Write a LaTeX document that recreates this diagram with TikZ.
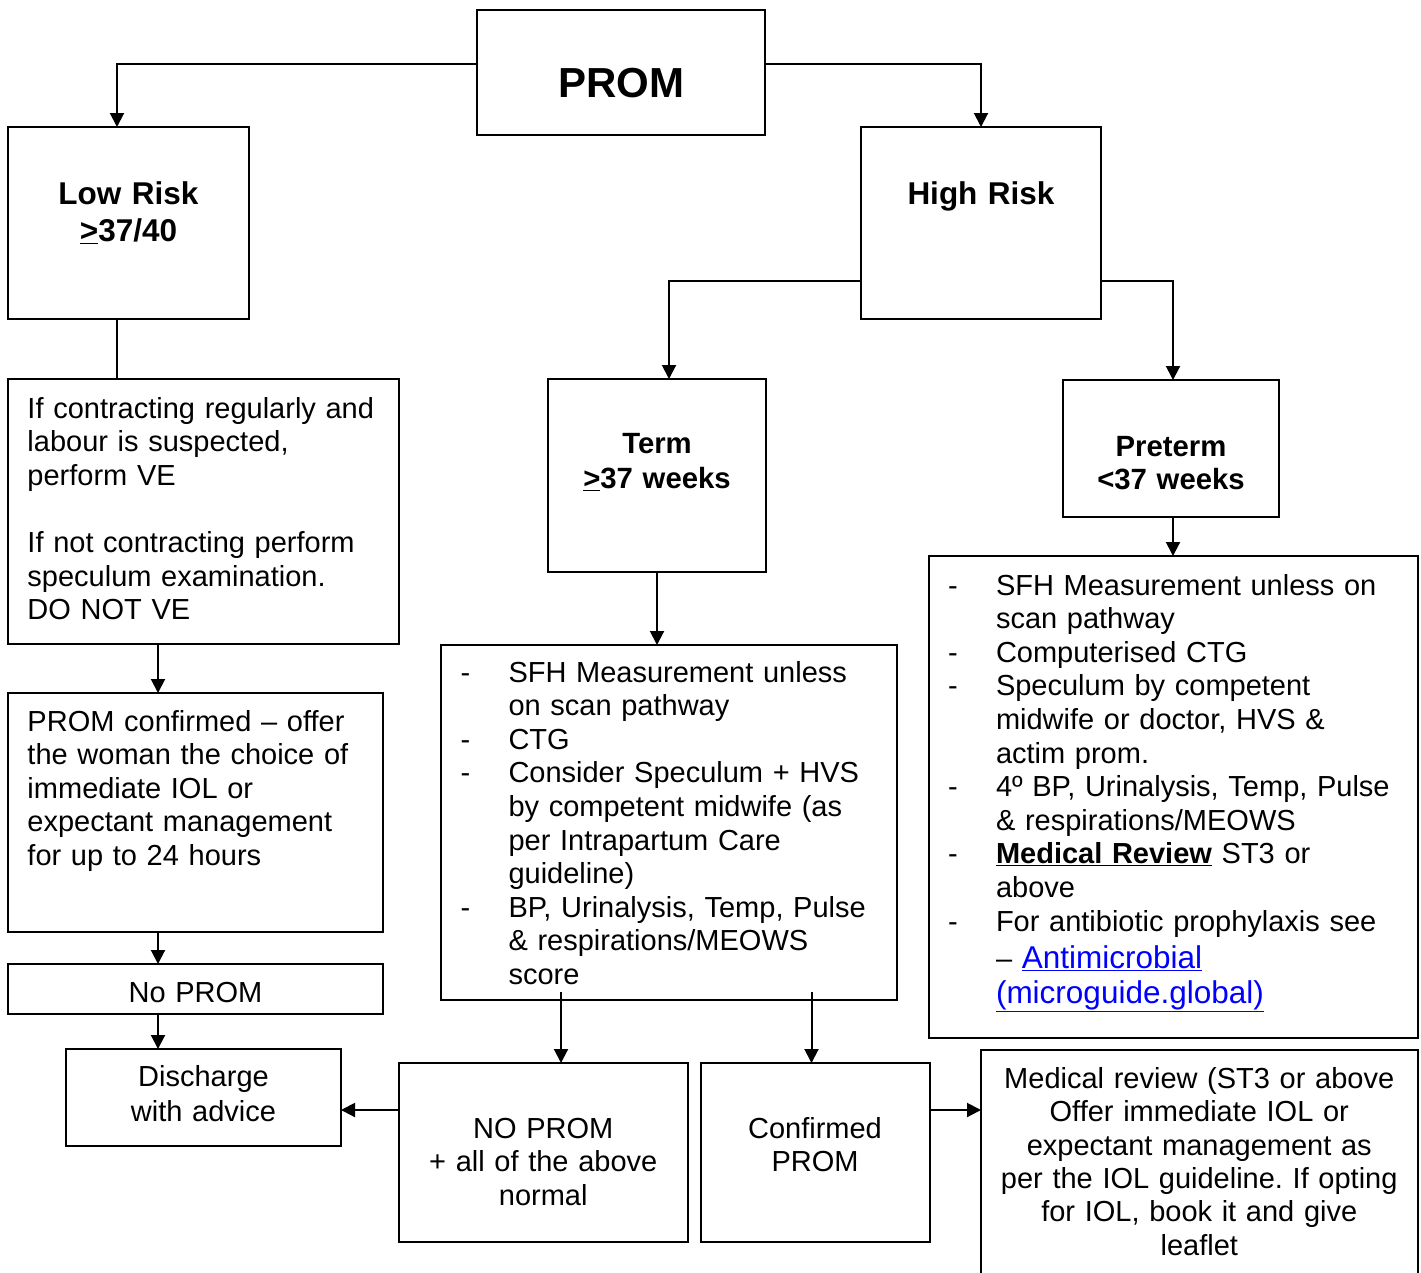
\documentclass[tikz,border=0pt]{standalone}
\usepackage{fontspec}
\setmainfont{Liberation Sans}
\usetikzlibrary{arrows.meta}
\definecolor{linkblue}{RGB}{0,0,255}
\newcommand{\itemdash}{\makebox[48pt][l]{-}}
\newcommand{\itemcont}{\hspace*{48pt}}
\newcommand{\weblink}[1]{{\fontsize{31.5}{36}\selectfont\color{linkblue}\underline{#1}}}
\frenchspacing

\begin{document}
\begin{tikzpicture}[x=1pt, y=-1pt]
    \tikzstyle{box} = [draw, line width=2pt, outer sep=0pt, inner sep=0pt, anchor=north west, font=\fontsize{29}{33.6}\selectfont]
    \tikzstyle{mid} = [box, align=center]
    \tikzstyle{flush} = [box, align=left, execute at begin node={\leftskip=19.5pt\lineskiplimit=-50pt}]
    \tikzstyle{arr} = [line width=2pt, -{Triangle[length=14pt, width=14pt]}]
    \useasboundingbox (0,0) rectangle (1421,1272);
    \clip (0,0) rectangle (1421,1272);
    \node[mid, text width=288pt, text height=87.7pt, text depth=37.3pt, font=\fontsize{42}{50}\selectfont\bfseries] (prom) at (477,10) {PROM};
    \node[mid, text width=241pt, text height=77pt, text depth=115pt, font=\fontsize{31.5}{37.7}\selectfont\bfseries] (low) at (8,127) {Low Risk\\\underline{>}37/40};
    \node[mid, text width=240pt, text height=77pt, text depth=115pt, font=\fontsize{31.5}{37.7}\selectfont\bfseries] (high) at (861,127) {High Risk};
    \node[flush, text width=391pt, text height=39pt, text depth=226pt] (lowtxt) at (8,379) {If contracting regularly and\\labour is suspected,\\perform VE\\[33.6pt]If not contracting perform\\speculum examination.\\DO NOT VE};
    \node[flush, text width=375pt, text height=38pt, text depth=201pt] (offer) at (8,693) {PROM confirmed – offer\\the woman the choice of\\immediate IOL or\\expectant management\\for up to 24 hours};
    \node[mid, text width=375pt, text height=38pt, text depth=12pt] (noprom) at (8,964) {No PROM};
    \node[mid, text width=275pt, text height=37.7pt, text depth=59.3pt, font=\fontsize{29}{35}\selectfont] (discharge) at (66,1049) {Discharge\\with advice};
    \node[mid, text width=218pt, text height=74.3pt, text depth=118.7pt, font=\fontsize{29.3}{35}\selectfont\bfseries] (term) at (548,379) {Term\\\underline{>}37 weeks};
    \node[mid, text width=216pt, text height=76pt, text depth=60.7pt, font=\fontsize{29.3}{33.3}\selectfont\bfseries] (preterm) at (1063,380) {Preterm\\<37 weeks};
    \node[flush, text width=456pt, text height=37pt, text depth=318pt] (termlist) at (441,645) {%
      \itemdash SFH Measurement unless\\
      \itemcont on scan pathway\\
      \itemdash CTG\\
      \itemdash Consider Speculum + HVS\\
      \itemcont by competent midwife (as\\
      \itemcont per Intrapartum Care\\
      \itemcont guideline)\\
      \itemdash BP, Urinalysis, Temp, Pulse\\
      \itemcont \& respirations/MEOWS\\
      \itemcont score};
    \node[flush, text width=489pt, text height=39pt, text depth=442.5pt] (pretermlist) at (928.5,556) {%
      \itemdash SFH Measurement unless on\\
      \itemcont scan pathway\\
      \itemdash Computerised CTG\\
      \itemdash Speculum by competent\\
      \itemcont midwife or doctor, HVS \&\\
      \itemcont actim prom.\\
      \itemdash 4º BP, Urinalysis, Temp, Pulse\\
      \itemcont \& respirations/MEOWS\\
      \itemdash \textbf{\underline{Medical Review}} ST3 or\\
      \itemcont above\\
      \itemdash For antibiotic prophylaxis see\\[3.7pt]
      \itemcont – \weblink{Antimicrobial}\\[1.5pt]
      \itemcont \weblink{(microguide.global)}};
    \node[mid, text width=288.5pt, text height=75.3pt, text depth=104pt, font=\fontsize{29}{33.4}\selectfont] (allnormal) at (399,1063) {NO PROM\\+ all of the above\\normal};
    \node[mid, text width=229pt, text height=75.3pt, text depth=104pt, font=\fontsize{29}{33.4}\selectfont] (confirmed) at (700.5,1063) {Confirmed\\PROM};
    \node[mid, text width=436.5pt, text height=38.3pt, text depth=211.7pt, font=\fontsize{29}{33.35}\selectfont] (review) at (981,1050) {Medical review (ST3 or above\\Offer immediate IOL or\\expectant management as\\per the IOL guideline. If opting\\for IOL, book it and give\\leaflet};
    \coordinate (leftcol) at (158,0);
    \coordinate (splitA) at (561,992);
    \coordinate (splitB) at (811.5,992);
    \coordinate (row) at (0,1110);
    \draw[arr] ([yshift=8.5pt]prom.west) -| ([xshift=-11.5pt]low.north);
    \draw[arr] ([yshift=8.5pt]prom.east) -| (high.north);
    \draw[line width=2pt] ([xshift=-11.5pt]low.south) -- ([xshift=-11.5pt]low.south |- lowtxt.north);
    \draw[arr] ([yshift=-57.5pt]high.west) -| ([xshift=12pt]term.north);
    \draw[arr] ([yshift=-57.5pt]high.east) -| ([xshift=2pt]preterm.north);
    \draw[arr] (term.south) -- (term.south |- termlist.north);
    \draw[arr] ([xshift=2pt]preterm.south) -- ([xshift=2pt]preterm.south |- pretermlist.north);
    \draw[arr] (lowtxt.south -| leftcol) -- (offer.north -| leftcol);
    \draw[arr] (offer.south -| leftcol) -- (noprom.north -| leftcol);
    \draw[arr] (noprom.south -| leftcol) -- (discharge.north -| leftcol);
    \draw[arr] (splitA) -- (splitA |- allnormal.north);
    \draw[arr] (splitB) -- (splitB |- confirmed.north);
    \draw[arr] (allnormal.west |- row) -- (discharge.east |- row);
    \draw[arr] (confirmed.east |- row) -- (review.west |- row);
\end{tikzpicture}
\end{document}
